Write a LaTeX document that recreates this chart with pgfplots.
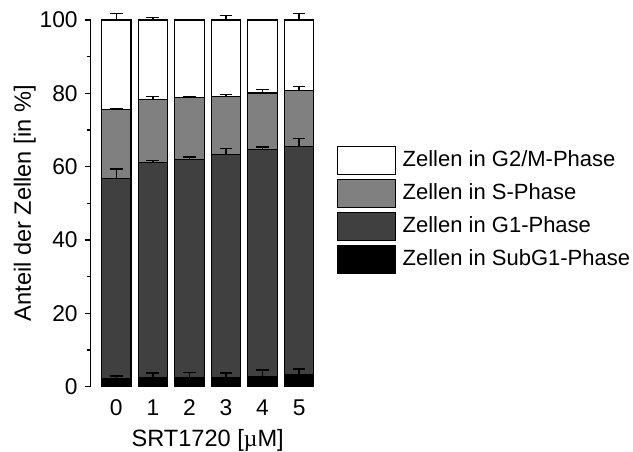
\documentclass[border=0pt]{standalone}
\usepackage{fontspec}
\setmainfont{Liberation Sans}
\newfontfamily\symfont{Liberation Serif}
\usepackage{pgfplots}
\usepackage{pgfplotstable}
\pgfplotsset{compat=1.18}
\definecolor{gS}{gray}{0.5}
\definecolor{gGone}{gray}{0.25}

\pgfplotstableread{
x subg g1 s g2m
0 2.1 54.7 18.7 24.5
1 2.5 58.7 17.1 21.7
2 2.5 59.5 16.8 21.2
3 2.5 60.9 15.8 20.8
4 2.8 61.9 15.4 19.9
5 3.2 62.4 15.1 19.3
}\datatable

\pgfplotstableread{
x subg esubg g1 eg1 s es g2m eg2m
0 2.1 0.8 56.8 2.6 75.5 0.2 100 1.8
1 2.5 1.2 61.2 0.5 78.3 0.8 100 0.6
2 2.5 1.4 62.0 0.6 78.8 0.4 100 0.1
3 2.5 1.2 63.4 1.6 79.2 0.5 100 1.2
4 2.8 1.7 64.7 0.7 80.1 0.9 100 0.1
5 3.2 1.6 65.6 2.1 80.7 1.1 100 1.8
}\errtable

\pgfplotsset{ebar/.style={draw=none, mark=none,
    error bars/.cd, y dir=plus, y explicit,
    error bar style={draw=black, line width=0.7pt},
    error mark options={rotate=90, draw=black, mark size=3.2pt, line width=0.7pt}}}

\begin{document}
\begin{tikzpicture}[font=\fontsize{11}{13.2}\selectfont]
\useasboundingbox (-45.35pt,-32.15pt) rectangle (271.15pt,193.35pt);
\begin{axis}[
  scale only axis, width=117pt, height=183.35pt,
  xmin=-0.7, xmax=5.7, ymin=0, ymax=100,
  ybar stacked, bar width=14.75pt,
  axis lines*=left,
  x axis line style={draw=none},
  axis line style={line width=0.6pt},
  xtick={0,...,5}, xtick style={draw=none},
  ytick={0,20,...,100}, minor y tick num=1,
  tick align=outside, major tick length=3pt, minor tick length=2pt,
  ytick style={line width=0.6pt, black},
  /pgf/number format/assume math mode=true,
  tick label style={font=\fontsize{11.4}{13.5}\selectfont},
  label style={font=\fontsize{11.8}{14}\selectfont},
  ylabel={Anteil der Zellen [in \%]},
  ylabel style={yshift=-5pt},
  xlabel={SRT1720 [{\symfont µ}M]},
  clip=false,
  reverse legend,
  legend image code/.code={\draw[#1,draw=black,line width=0.6pt] (0pt,-7.15pt) rectangle (29pt,7.15pt);},
  legend style={draw=none, fill=none, at={(1,0.482)}, anchor=west, xshift=3pt,
    row sep=1.6pt, column sep=2.6pt, nodes={inner sep=0.6pt}},
  legend cell align=left,
]
\addplot[fill=black, draw=black, line width=0.6pt] table[x=x,y=subg] {\datatable};
\addplot[fill=gGone, draw=black, line width=0.6pt] table[x=x,y=g1] {\datatable};
\addplot[fill=gS, draw=black, line width=0.6pt] table[x=x,y=s] {\datatable};
\addplot[fill=white, draw=black, line width=0.6pt] table[x=x,y=g2m] {\datatable};
\legend{Zellen in SubG1-Phase, Zellen in G1-Phase, Zellen in S-Phase, Zellen in G2/M-Phase}
\end{axis}
\begin{axis}[
  scale only axis, width=117pt, height=183.35pt,
  xmin=-0.7, xmax=5.7, ymin=0, ymax=100,
  hide axis, clip=false,
]
\addplot[ebar] table[x=x,y=subg,y error=esubg] {\errtable};
\addplot[ebar] table[x=x,y=g1,y error=eg1] {\errtable};
\addplot[ebar] table[x=x,y=s,y error=es] {\errtable};
\addplot[ebar] table[x=x,y=g2m,y error=eg2m] {\errtable};
\end{axis}
\end{tikzpicture}
\end{document}
